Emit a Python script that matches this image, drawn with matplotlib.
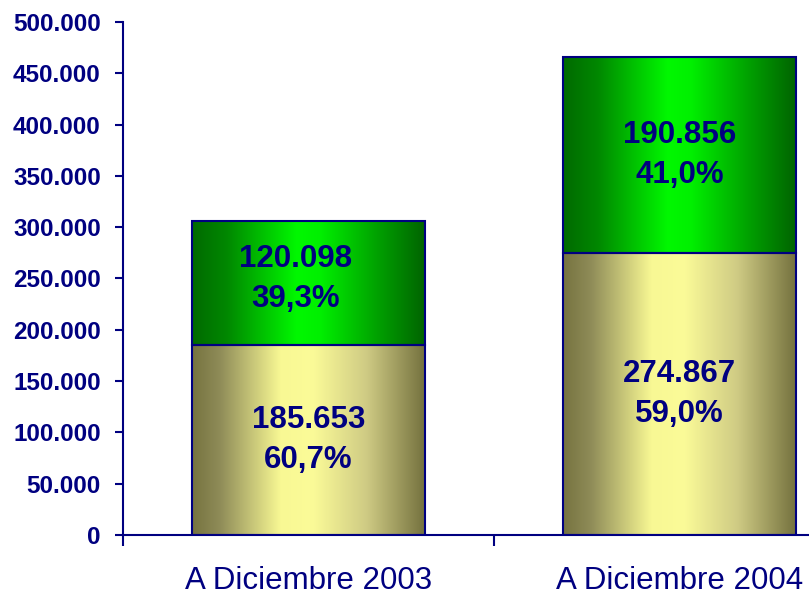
import matplotlib.pyplot as plt
import numpy as np
from matplotlib.colors import LinearSegmentedColormap

plt.rcParams['font.family'] = ['Liberation Sans', 'DejaVu Sans']

categorias = ["A Diciembre 2003", "A Diciembre 2004"]
base = [185653, 274867]
superior = [120098, 190856]
pct_base = ["60,7%", "59,0%"]
pct_sup = ["39,3%", "41,0%"]

navy = '#000080'

# degradados horizontales (oscuro - claro - oscuro)
cmap_amarillo = LinearSegmentedColormap.from_list(
    'amar', [(0, '#767340'), (0.12, '#8f8c58'), (0.38, '#f8f894'),
             (0.52, '#fbfb98'), (0.75, '#cfcb84'), (1, '#75723f')])
cmap_verde = LinearSegmentedColormap.from_list(
    'verde', [(0, '#006a00'), (0.15, '#008800'), (0.45, '#00f800'),
              (0.55, '#00f000'), (0.8, '#00a000'), (1, '#006400')])

fig = plt.figure(figsize=(8.09, 5.94), dpi=100)
ax = fig.add_axes([0.152, 0.0993, 0.917, 0.8637])

x = np.arange(len(categorias)) + 0.5
ancho = 0.628

b1 = ax.bar(x, base, ancho, facecolor='none', edgecolor=navy, linewidth=1.5, zorder=3)
b2 = ax.bar(x, superior, ancho, bottom=base, facecolor='none', edgecolor=navy, linewidth=1.5, zorder=3)

grad = np.linspace(0, 1, 256).reshape(1, -1)
for barras, cm in [(b1, cmap_amarillo), (b2, cmap_verde)]:
    for p in barras:
        x0, y0 = p.get_x(), p.get_y()
        w, h = p.get_width(), p.get_height()
        im = ax.imshow(grad, cmap=cm, aspect='auto', extent=[x0, x0 + w, y0, y0 + h],
                       interpolation='bicubic', zorder=2)
        im.set_clip_path(p)

# la etiqueta superior de 2003 esta algo desplazada en el original
desp_x = [-0.035, 0]
desp_y = [4000, 0]
estilo = dict(ha='center', va='center', fontsize=22.5, fontweight='bold', color=navy,
              linespacing=1.45, zorder=4)
for i in range(len(categorias)):
    ax.text(x[i], base[i] / 2, f"{base[i]:,}".replace(',', '.') + "\n" + pct_base[i], **estilo)
    ax.text(x[i] + desp_x[i], base[i] + superior[i] / 2 + desp_y[i],
            f"{superior[i]:,}".replace(',', '.') + "\n" + pct_sup[i], **estilo)

ax.set_xlim(0, 2)
ax.set_ylim(0, 500000)
ax.set_yticks(np.arange(0, 500001, 50000))
ax.set_yticklabels([f"{v:,}".replace(',', '.') for v in range(0, 500001, 50000)])
ax.set_xticks([0, 1, 2])
ax.set_xticklabels([])
ax.set_xticks(x, minor=True)
ax.set_xticklabels(categorias, minor=True)

ax.tick_params(axis='y', direction='out', length=6, width=1.5, color=navy, pad=10,
               labelsize=17.5, labelcolor=navy)
for t in ax.get_yticklabels():
    t.set_fontweight('bold')
ax.tick_params(axis='x', which='major', direction='out', length=8, width=1.5, color=navy)
ax.tick_params(axis='x', which='minor', length=0, pad=22, labelsize=22.5, labelcolor=navy)

for s in ['top', 'right']:
    ax.spines[s].set_visible(False)
for s in ['left', 'bottom']:
    ax.spines[s].set_color(navy)
    ax.spines[s].set_linewidth(1.5)

fig.savefig('out.png', dpi=100)
